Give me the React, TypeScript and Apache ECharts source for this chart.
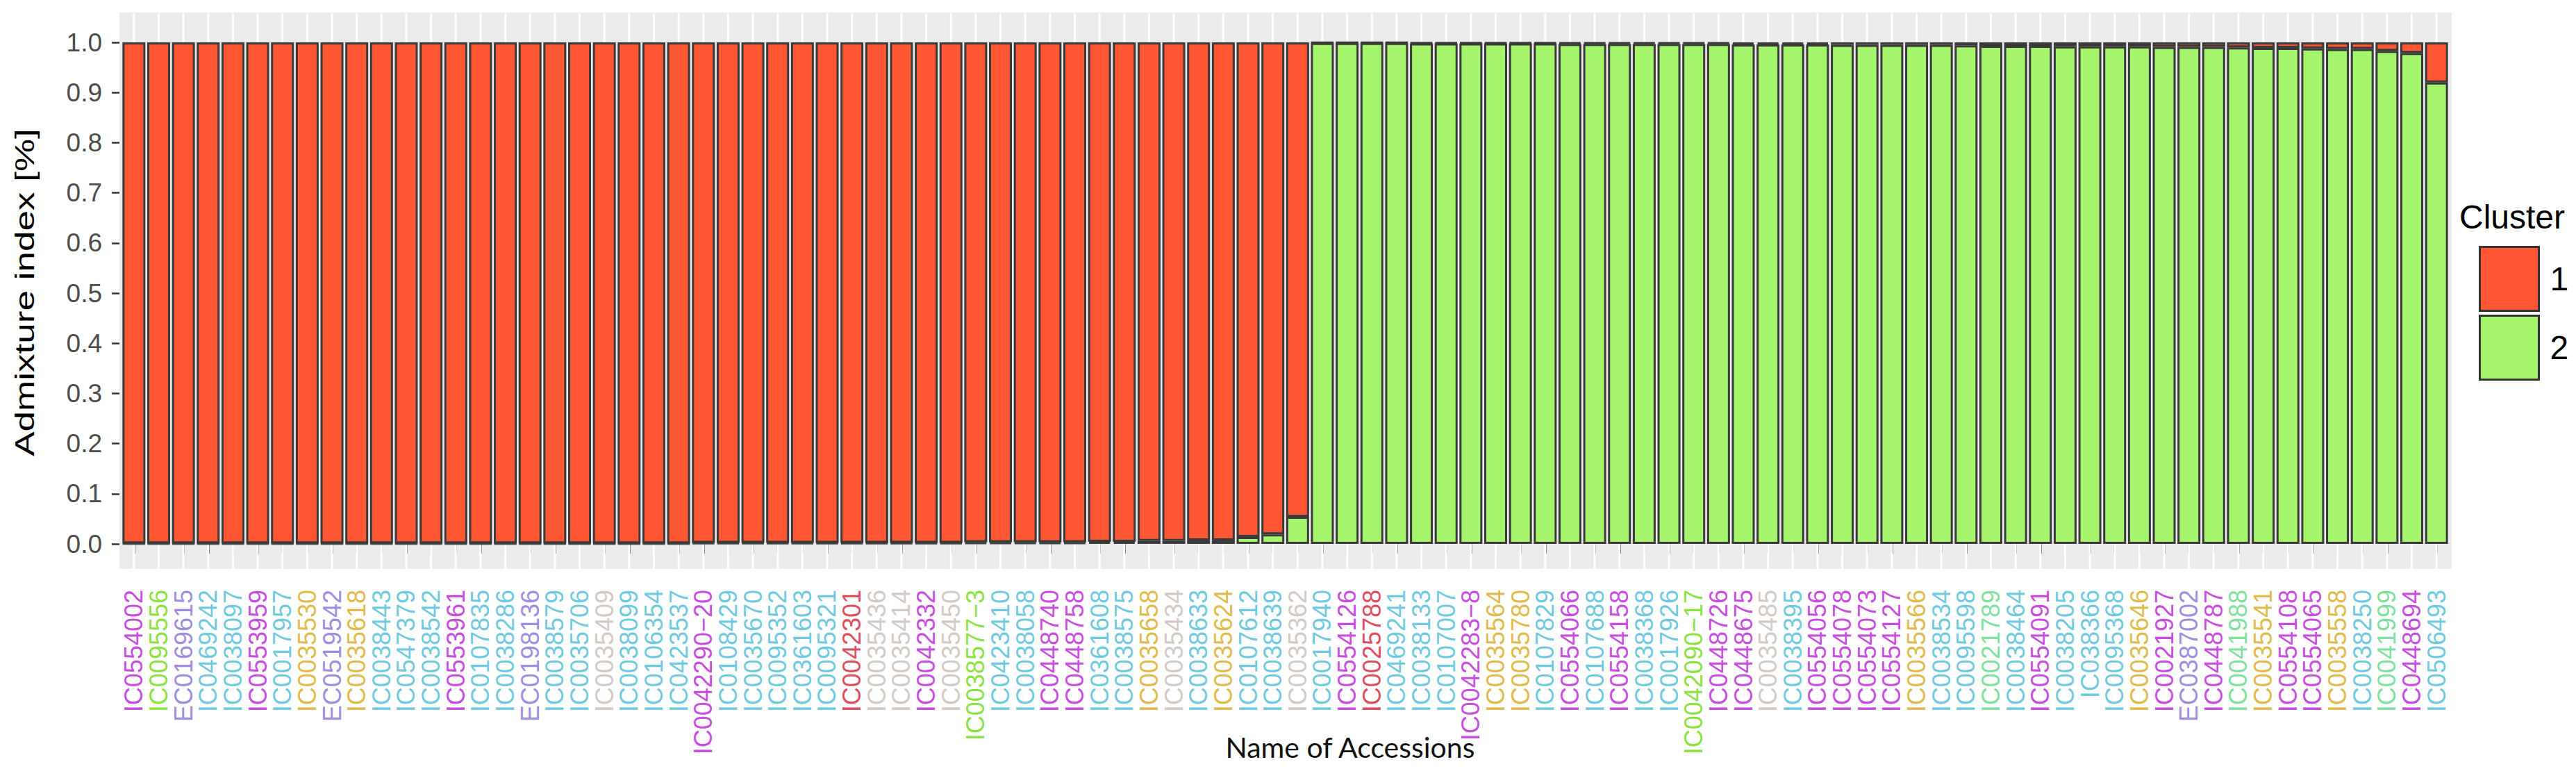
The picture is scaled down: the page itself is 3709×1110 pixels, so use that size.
import React, { useEffect, useRef } from "react";
import * as echarts from "echarts";

const accessions = [
  "IC0554002", "IC0095556", "EC0169615", "IC0469242", "IC0038097", "IC0553959", "IC0017957", "IC0035530",
  "EC0519542", "IC0035618", "IC0038443", "IC0547379", "IC0038542", "IC0553961", "IC0107835", "IC0038286",
  "EC0198136", "IC0038579", "IC0035706", "IC0035409", "IC0038099", "IC0106354", "IC0423537", "IC0042290\u221220",
  "IC0108429", "IC0035670", "IC0095352", "IC0361603", "IC0095321", "IC0042301", "IC0035436", "IC0035414",
  "IC0042332", "IC0035450", "IC0038577\u22123", "IC0423410", "IC0038058", "IC0448740", "IC0448758", "IC0361608",
  "IC0038575", "IC0035658", "IC0035434", "IC0038633", "IC0035624", "IC0107612", "IC0038639", "IC0035362",
  "IC0017940", "IC0554126", "IC0025788", "IC0469241", "IC0038133", "IC0107007", "IC0042283\u22128", "IC0035564",
  "IC0035780", "IC0107829", "IC0554066", "IC0107688", "IC0554158", "IC0038368", "IC0017926", "IC0042090\u221217",
  "IC0448726", "IC0448675", "IC0035485", "IC0038395", "IC0554056", "IC0554078", "IC0554073", "IC0554127",
  "IC0035566", "IC0038534", "IC0095598", "IC0021789", "IC0038464", "IC0554091", "IC0038205", "IC038366",
  "IC0095368", "IC0035646", "IC0021927", "EC0387002", "IC0448787", "IC0041988", "IC0035541", "IC0554108",
  "IC0554065", "IC0035558", "IC0038250", "IC0041999", "IC0448694", "IC0506493",
];

// label colour group of each accession
const labelGroups = [
  "M", "L", "P", "C", "C", "M", "C", "G",
  "P", "G", "C", "C", "C", "M", "C", "C",
  "P", "C", "C", "S", "C", "C", "C", "M",
  "C", "C", "C", "C", "C", "R", "S", "S",
  "M", "S", "L", "C", "C", "M", "M", "C",
  "C", "G", "S", "C", "G", "C", "C", "S",
  "C", "M", "R", "C", "C", "C", "M", "G",
  "G", "C", "M", "C", "M", "C", "C", "L",
  "M", "M", "S", "C", "M", "M", "M", "M",
  "G", "C", "C", "T", "C", "M", "C", "C",
  "C", "G", "M", "P", "M", "T", "G", "M",
  "M", "G", "C", "T", "M", "C",
];

const groupColors: Record<string, string> = {
  M: "#C94DE0",
  L: "#8BE33F",
  P: "#A08CE0",
  C: "#6FCADF",
  G: "#E0BA4A",
  S: "#D3CAC5",
  R: "#E04E5E",
  T: "#7FE19E",
};

// Cluster 1 (orange) admixture proportion
const cluster1 = [
  0.999, 0.999, 0.999, 0.999, 0.999, 0.999, 0.999, 0.999, 0.999, 0.999,
  0.999, 0.999, 0.999, 0.999, 0.999, 0.999, 0.999, 0.999, 0.999, 0.999,
  0.999, 0.999, 0.999, 0.998, 0.998, 0.998, 0.998, 0.998, 0.998, 0.998,
  0.998, 0.998, 0.998, 0.998, 0.997, 0.997, 0.997, 0.997, 0.997, 0.996,
  0.996, 0.994, 0.994, 0.993, 0.993, 0.986, 0.981, 0.946,
  0.001, 0.001, 0.001, 0.001, 0.002, 0.002, 0.002, 0.002, 0.002, 0.002,
  0.003, 0.003, 0.003, 0.003, 0.003, 0.003, 0.003, 0.004, 0.004, 0.004,
  0.004, 0.005, 0.005, 0.005, 0.005, 0.005, 0.006, 0.007, 0.007, 0.007,
  0.008, 0.008, 0.008, 0.008, 0.009, 0.009, 0.009, 0.010, 0.011, 0.011,
  0.012, 0.013, 0.013, 0.017, 0.021, 0.080,
];

// Cluster 2 (green) admixture proportion
const cluster2 = [
  0.001, 0.001, 0.001, 0.001, 0.001, 0.001, 0.001, 0.001, 0.001, 0.001,
  0.001, 0.001, 0.001, 0.001, 0.001, 0.001, 0.001, 0.001, 0.001, 0.001,
  0.001, 0.001, 0.001, 0.002, 0.002, 0.002, 0.002, 0.002, 0.002, 0.002,
  0.002, 0.002, 0.002, 0.002, 0.003, 0.003, 0.003, 0.003, 0.003, 0.004,
  0.004, 0.006, 0.006, 0.007, 0.007, 0.014, 0.019, 0.054,
  0.999, 0.999, 0.999, 0.999, 0.998, 0.998, 0.998, 0.998, 0.998, 0.998,
  0.997, 0.997, 0.997, 0.997, 0.997, 0.997, 0.997, 0.996, 0.996, 0.996,
  0.996, 0.995, 0.995, 0.995, 0.995, 0.995, 0.994, 0.993, 0.993, 0.993,
  0.992, 0.992, 0.992, 0.992, 0.991, 0.991, 0.991, 0.990, 0.989, 0.989,
  0.988, 0.987, 0.987, 0.983, 0.979, 0.920,
];

const clusterNames = ["1", "2"];

export default function App() {
  const ref = useRef<HTMLDivElement>(null);

  useEffect(() => {
    if (!ref.current) return;
    const chart = echarts.init(ref.current, undefined, { renderer: "svg" });
    const font = "'Liberation Sans', Arial, Helvetica, sans-serif";

    chart.setOption({
      animation: false,
      backgroundColor: "#ffffff",
      grid: { left: 175, top: 61, width: 3351, height: 722, containLabel: false },
      legend: {
        data: clusterNames,
        orient: "vertical",
        left: 3569,
        top: 354,
        padding: 0,
        itemWidth: 85,
        itemHeight: 92,
        itemGap: 4,
        icon: "rect",
        selectedMode: false,
        itemStyle: { borderColor: "#333333", borderWidth: 3 },
        textStyle: { fontSize: 48, fontFamily: font, color: "#000000", padding: [0, 0, 0, 11] },
      },
      xAxis: {
        type: "category",
        data: accessions,
        offset: 37,
        axisLine: { show: false },
        axisTick: { show: true, alignWithLabel: true, length: 14, lineStyle: { color: "#333333", width: 2.5 } },
        splitLine: { show: false },
        axisLabel: {
          interval: 0,
          rotate: 90,
          margin: 29,
          fontSize: 36,
          fontFamily: font,
          color: (_v: any, idx: number) => groupColors[labelGroups[idx]],
        },
      },
      yAxis: {
        type: "value",
        min: 0,
        max: 1,
        interval: 0.1,
        offset: 3,
        axisLine: { show: false },
        axisTick: { show: true, length: 11, lineStyle: { color: "#333333", width: 2.5 } },
        splitLine: { show: false },
        axisLabel: {
          margin: 25,
          fontSize: 37,
          fontFamily: font,
          color: "#4D4D4D",
          formatter: (v: number) => v.toFixed(1),
        },
      },
      graphic: {
        elements: [
          {
            type: "rect",
            z: 0,
            silent: true,
            shape: { x: 172, y: 18, width: 3358, height: 801 },
            style: { fill: "#EBEBEB" },
          },
          {
            type: "text",
            x: 36,
            y: 421,
            rotation: Math.PI / 2,
            scaleX: 1.36,
            style: {
              text: "Admixture index [%]",
              fontSize: 39,
              fontFamily: font,
              fill: "#000000",
              textAlign: "center",
              textVerticalAlign: "middle",
            },
          },
          {
            type: "text",
            x: 1944,
            y: 1075,
            style: {
              text: "Name of Accessions",
              fontSize: 41,
              fontFamily: "Lato, 'Open Sans', sans-serif",
              fill: "#111111",
              textAlign: "center",
              textVerticalAlign: "middle",
            },
          },
          {
            type: "text",
            x: 3541,
            y: 312,
            style: {
              text: "Cluster",
              fontSize: 48,
              fontFamily: font,
              fill: "#000000",
              textAlign: "left",
              textVerticalAlign: "middle",
            },
          },
        ],
      },
      series: [
        {
          type: "custom",
          name: "gridlines",
          z: 1,
          silent: true,
          data: accessions.map((_, i) => [i, 0]),
          encode: { x: 0, y: 1 },
          renderItem: (_params: any, api: any) => {
            const i = api.value(0);
            const top = api.coord([i, 1.058]);
            const bot = api.coord([i, -0.05]);
            return {
              type: "line",
              shape: { x1: top[0], y1: top[1], x2: bot[0], y2: bot[1] },
              style: { stroke: "#ffffff", lineWidth: 3 },
            };
          },
        },
        {
          type: "bar",
          name: clusterNames[1],
          stack: "admix",
          barWidth: 33,
          data: cluster2,
          itemStyle: { color: "#A4F46C", borderColor: "#3a3a3a", borderWidth: 3 },
        },
        {
          type: "bar",
          name: clusterNames[0],
          stack: "admix",
          barWidth: 33,
          data: cluster1,
          itemStyle: { color: "#FF5733", borderColor: "#3a3a3a", borderWidth: 3 },
        },
      ],
    });

    return () => chart.dispose();
  }, []);

  return (
    <div
      ref={ref}
      style={{ position: "absolute", left: 0, top: 0, width: 3709, height: 1110, background: "#fff" }}
    />
  );
}
